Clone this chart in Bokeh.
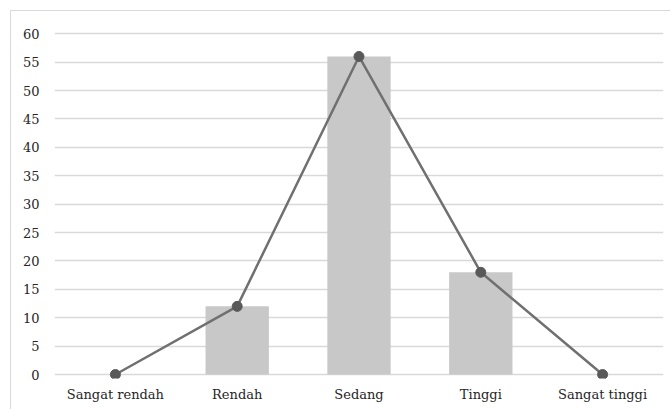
from bokeh.plotting import figure
from bokeh.models import Range1d, FixedTicker
from bokeh.embed import file_html
from bokeh.resources import INLINE

# Frequency per category
categories = ["Sangat rendah", "Rendah", "Sedang", "Tinggi", "Sangat tinggi"]
bar_values = [0, 12, 56, 18, 0]
line_values = [0, 12, 56, 18, 0]
y_ticks = [0, 5, 10, 15, 20, 25, 30, 35, 40, 45, 50, 55, 60]

FONT = "DejaVu Serif"

p = figure(
    x_range=categories,
    y_range=Range1d(-0.7, 60.4),
    width=660, height=399,
    output_backend="svg", toolbar_location=None,
    min_border_left=43, min_border_right=8,
    min_border_top=20, min_border_bottom=32,
)
p.margin = (10, 0, 0, 10)
p.styles = {"border-top": "1px solid #d9d9d9", "border-left": "1px solid #d9d9d9",
            "box-sizing": "border-box"}
p.outline_line_color = None
p.background_fill_color = "white"
p.border_fill_color = "white"

p.vbar(x=categories, top=bar_values, width=0.52, fill_color="#c8c8c8", line_color=None)
p.line(x=categories, y=line_values, line_color="#707070", line_width=2.5)
p.scatter(x=categories, y=line_values, size=10, fill_color="#595959", line_color="#595959")

p.xgrid.grid_line_color = None
p.ygrid.ticker = FixedTicker(ticks=y_ticks)
p.ygrid.grid_line_color = "#d9d9d9"
p.ygrid.grid_line_width = 1.5

p.yaxis.ticker = FixedTicker(ticks=y_ticks)
p.yaxis.axis_line_color = None
p.yaxis.major_tick_line_color = None
p.yaxis.minor_tick_line_color = None
p.yaxis.major_tick_in = 0
p.yaxis.major_tick_out = 0
p.yaxis.major_label_standoff = 15

p.xaxis.axis_line_color = None
p.xaxis.major_tick_line_color = None
p.xaxis.major_tick_in = 0
p.xaxis.major_tick_out = 0
p.xaxis.major_label_standoff = 8

for ax in (p.xaxis, p.yaxis):
    ax.major_label_text_font = FONT
    ax.major_label_text_font_size = "13px"
    ax.major_label_text_color = "#262626"

open("out.html", "w").write(file_html(p, INLINE))
